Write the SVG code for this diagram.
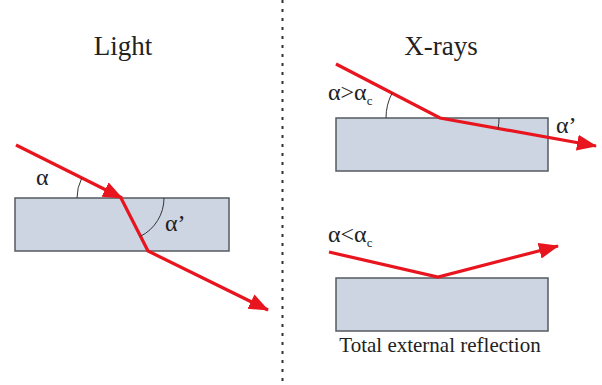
<svg xmlns="http://www.w3.org/2000/svg" width="602" height="385" viewBox="0 0 602 385">
<style>
.slab{fill:#cdd4e2;stroke:#555a60;stroke-width:1.5}
.ray{fill:none;stroke:#e8141e;stroke-width:3.2;stroke-linejoin:miter}
.arc{fill:none;stroke:#333;stroke-width:1}
.t{font-family:"Liberation Serif","Times New Roman",serif;fill:#222}
.title{font-size:27px;text-anchor:middle}
.lbl{font-size:24px}
.sub{font-size:13px}
.cap{font-size:21px;text-anchor:middle}
</style>
<defs>
<marker id="ah" markerUnits="userSpaceOnUse" markerWidth="22" markerHeight="18" refX="19" refY="8" orient="auto">
<path d="M0,0 L20,8 L0,16 z" fill="#e8141e"/>
</marker>
</defs>
<rect width="602" height="385" fill="#fff"/>
<line x1="282.5" y1="0" x2="282.5" y2="385" stroke="#333" stroke-width="2" stroke-dasharray="3,6"/>
<text class="t title" x="123" y="55">Light</text>
<text class="t title" x="441" y="55">X-rays</text>
<g id="light-slab"><rect class="slab" x="15" y="198" width="214" height="53"/></g>
<g id="xray-slab-top"><rect class="slab" x="336" y="118" width="212" height="53"/></g>
<g id="xray-slab-bottom"><rect class="slab" x="336" y="278" width="212" height="53"/></g>
<g id="connectors">
<path class="ray" d="M16,145 L122,198" marker-end="url(#ah)"/>
<path class="ray" d="M121,198 L148,251 L268,310" marker-end="url(#ah)"/>
<path class="ray" d="M336,64 L440,118 L596,146" marker-end="url(#ah)"/>
<path class="ray" d="M329,252 L438,277 L558,246" marker-end="url(#ah)"/>
</g>
<g id="angles">
<path class="arc" d="M77,198 A44,44 0 0,1 81.7,178.2"/>
<path class="arc" d="M164,198 A43,43 0 0,1 140.5,236.3"/>
<path class="arc" d="M386,118 A54,54 0 0,1 392.1,93.1"/>
<path class="arc" d="M499,118 A59,59 0 0,1 498.1,128.5"/>
</g>
<g id="labels">
<text class="t lbl" x="36" y="185">α</text>
<text class="t lbl" x="165" y="231">α’</text>
<text class="t lbl" x="328" y="100">α&gt;α<tspan class="sub" dy="5">c</tspan></text>
<text class="t lbl" x="556" y="133">α’</text>
<text class="t lbl" x="328" y="242">α&lt;α<tspan class="sub" dy="5">c</tspan></text>
<text class="t cap" x="440" y="352">Total external reflection</text>
</g>
</svg>
